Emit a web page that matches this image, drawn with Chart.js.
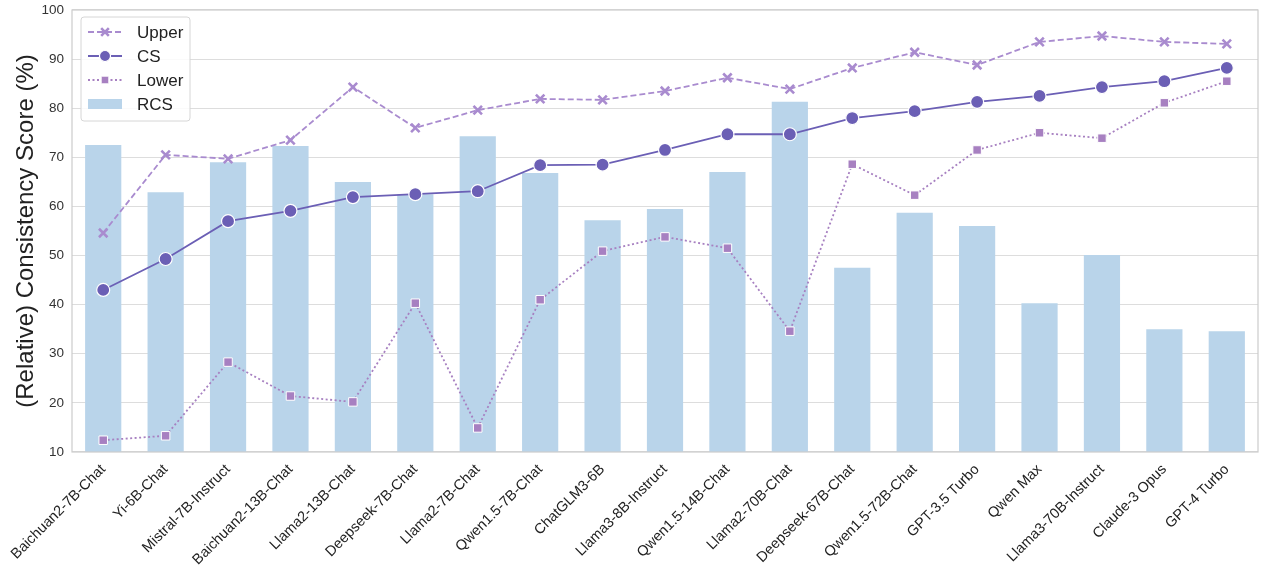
<!DOCTYPE html>
<html>
<head>
<meta charset="utf-8">
<script src="https://cdn.jsdelivr.net/npm/chart.js@4.4.1/dist/chart.umd.min.js"></script>
<style>
  html, body { margin: 0; padding: 0; background: #fff; }
  #wrap { width: 1264px; height: 569px; }
</style>
</head>
<body>
<div id="wrap"><canvas id="chart" width="1264" height="569"></canvas></div>
<script>
const models = ['Baichuan2-7B-Chat', 'Yi-6B-Chat', 'Mistral-7B-Instruct', 'Baichuan2-13B-Chat',
    'Llama2-13B-Chat', 'Deepseek-7B-Chat', 'Llama2-7B-Chat', 'Qwen1.5-7B-Chat', 'ChatGLM3-6B',
    'Llama3-8B-Instruct', 'Qwen1.5-14B-Chat', 'Llama2-70B-Chat', 'Deepseek-67B-Chat',
    'Qwen1.5-72B-Chat', 'GPT-3.5 Turbo', 'Qwen Max', 'Llama3-70B-Instruct', 'Claude-3 Opus', 'GPT-4 Turbo'];

const upper = [54.6, 70.5, 69.7, 73.5, 84.3, 76.0, 79.6, 81.9, 81.7, 83.5, 86.2, 83.9, 88.2, 91.4, 88.8, 93.5, 94.7, 93.5, 93.1];
const cs    = [43.0, 49.3, 57.0, 59.1, 61.9, 62.5, 63.1, 68.4, 68.5, 71.5, 74.7, 74.7, 78.0, 79.4, 81.3, 82.5, 84.3, 85.5, 88.2];
const lower = [12.4, 13.3, 28.3, 21.4, 20.2, 40.3, 14.9, 41.0, 50.9, 53.8, 51.5, 34.6, 68.6, 62.3, 71.5, 75.0, 73.9, 81.1, 85.5];
const rcs   = [72.5, 62.9, 69.0, 72.3, 65.0, 62.5, 74.3, 66.8, 57.2, 59.5, 67.0, 81.3, 47.5, 58.7, 56.0, 40.3, 50.1, 35.0, 34.6];

const yTicks = [10, 20, 30, 40, 50, 60, 70, 80, 90, 100];

const FONT = "'Liberation Sans', Arial, sans-serif";

// frame around plot + legend inside the axes (top-left)
const framePlugin = {
    id: 'frame',
    afterDraw(chart) {
        const { ctx, chartArea: a } = chart;
        ctx.save();
        ctx.strokeStyle = '#cccccc';
        ctx.lineWidth = 1.2;
        ctx.strokeRect(a.left, a.top, a.right - a.left, a.bottom - a.top);

        // legend box
        const x0 = a.left + 9, y0 = a.top + 7;
        const w = 109, rowH = 24, h = 104;
        ctx.fillStyle = 'rgba(255,255,255,0.85)';
        ctx.strokeStyle = '#d6d6d6';
        ctx.lineWidth = 1;
        ctx.beginPath();
        ctx.roundRect(x0, y0, w, h, 3);
        ctx.fill();
        ctx.stroke();

        chart.data.datasets.forEach((ds, i) => {
            const cy = y0 + 15 + i * rowH;
            const sx = x0 + 7, ex = x0 + 41, mx = (sx + ex) / 2;
            if (ds.type === 'bar') {
                ctx.fillStyle = ds.backgroundColor;
                ctx.fillRect(sx, cy - 5, ex - sx, 10);
            } else {
                ctx.strokeStyle = ds.borderColor;
                ctx.lineWidth = ds.borderWidth;
                ctx.setLineDash(ds.borderDash || []);
                ctx.beginPath();
                ctx.moveTo(sx, cy);
                ctx.lineTo(ex, cy);
                ctx.stroke();
                ctx.setLineDash([]);
                ctx.fillStyle = ds.pointBackgroundColor;
                ctx.strokeStyle = ds.pointBorderColor;
                ctx.lineWidth = ds.pointBorderWidth;
                ctx.beginPath();
                const r = ds.pointRadius * 0.85;
                if (ds.pointStyle === 'circle') {
                    ctx.arc(mx, cy, r, 0, Math.PI * 2);
                    ctx.fill(); ctx.stroke();
                } else if (ds.pointStyle === 'rect') {
                    ctx.rect(mx - r * 0.75, cy - r * 0.75, r * 1.5, r * 1.5);
                    ctx.fill(); ctx.stroke();
                } else {
                    ctx.moveTo(mx - r * 0.75, cy - r * 0.75); ctx.lineTo(mx + r * 0.75, cy + r * 0.75);
                    ctx.moveTo(mx + r * 0.75, cy - r * 0.75); ctx.lineTo(mx - r * 0.75, cy + r * 0.75);
                    ctx.stroke();
                }
            }
            ctx.fillStyle = '#222';
            ctx.font = '17px ' + FONT;
            ctx.textBaseline = 'middle';
            ctx.textAlign = 'left';
            ctx.fillText(ds.label, x0 + 56, cy + 1);
        });
        ctx.restore();
    }
};

new Chart(document.getElementById('chart').getContext('2d'), {
    data: {
        labels: models,
        datasets: [
            {
                type: 'line', label: 'Upper', data: upper, order: 1,
                borderColor: '#a98bcf', borderWidth: 1.8, borderDash: [6, 3],
                pointStyle: 'crossRot', pointRadius: 6, pointBorderWidth: 2.6,
                pointBackgroundColor: '#a98bcf', pointBorderColor: '#a98bcf',
                pointHoverRadius: 6, tension: 0
            },
            {
                type: 'line', label: 'CS', data: cs, order: 0,
                borderColor: '#6b5fb5', borderWidth: 1.8,
                pointStyle: 'circle', pointRadius: 6.5, pointBorderWidth: 1.2,
                pointBackgroundColor: '#6b5fb5', pointBorderColor: '#ffffff',
                pointHoverRadius: 6.5, tension: 0
            },
            {
                type: 'line', label: 'Lower', data: lower, order: 2,
                borderColor: '#a780c1', borderWidth: 1.8, borderDash: [2, 2.5],
                pointStyle: 'rect', pointRadius: 6, pointBorderWidth: 1,
                pointBackgroundColor: '#a780c1', pointBorderColor: '#ffffff',
                pointHoverRadius: 6, tension: 0
            },
            {
                type: 'bar', label: 'RCS', data: rcs, order: 3,
                backgroundColor: '#b9d4ea', borderWidth: 0,
                barPercentage: 0.58, categoryPercentage: 1.0
            }
        ]
    },
    options: {
        responsive: false,
        animation: false,
        devicePixelRatio: 1,
        layout: { autoPadding: false, padding: { top: 10, right: 6, left: 0, bottom: 0 } },
        plugins: {
            legend: { display: false },
            tooltip: { enabled: false }
        },
        scales: {
            x: {
                grid: { display: false },
                border: { display: false },
                ticks: {
                    color: '#222', font: { family: FONT, size: 14.5 },
                    maxRotation: 45, minRotation: 45, autoSkip: false, padding: 1
                },
                afterFit(scale) {
                    scale.height = 117;
                    scale.paddingLeft = 0; scale.paddingRight = 0;
                }
            },
            y: {
                min: 10, max: 100,
                afterBuildTicks(scale) { scale.ticks = yTicks.map(v => ({ value: v })); },
                grid: { color: '#dddddd', lineWidth: 1.1, drawTicks: false },
                border: { display: false },
                ticks: { color: '#333', font: { family: FONT, size: 13.5 }, padding: 8 },
                title: {
                    display: true, text: '(Relative) Consistency Score (%)',
                    color: '#222', font: { family: FONT, size: 24 }, padding: { top: 12, bottom: 4 }
                },
                afterFit(scale) {
                    scale.width = 72;
                    scale.paddingTop = 0; scale.paddingBottom = 0;
                }
            }
        }
    },
    plugins: [framePlugin]
});
</script>
</body>
</html>
